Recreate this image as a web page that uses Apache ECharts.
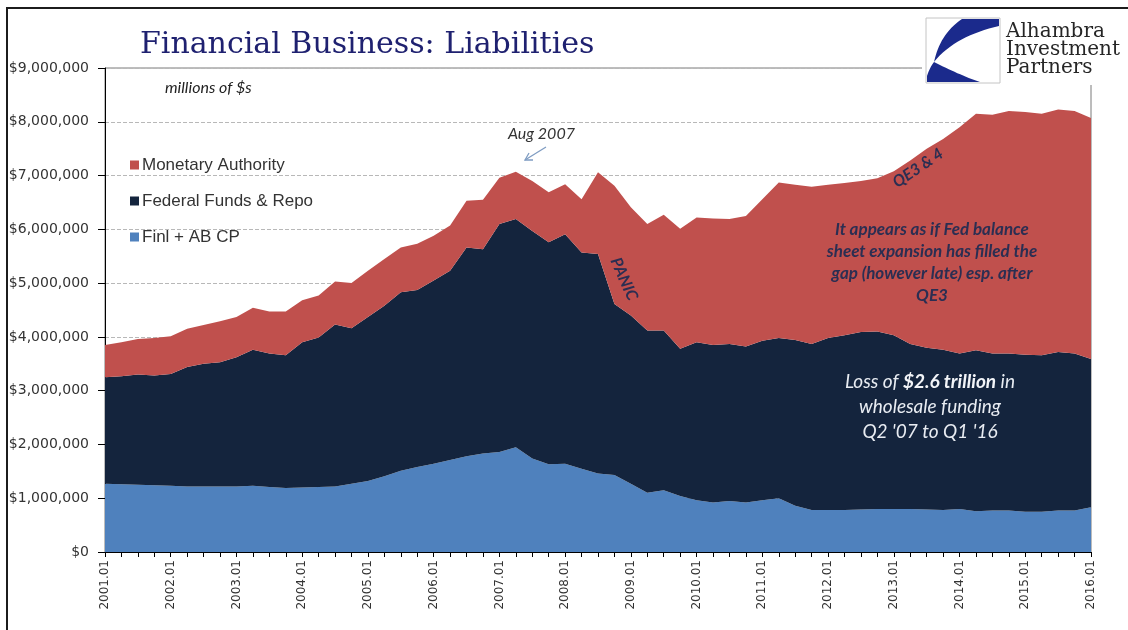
<!DOCTYPE html>
<html>
<head>
<meta charset="utf-8">
<script src="https://cdn.jsdelivr.net/npm/echarts@6/dist/echarts.min.js"></script>
<style>
  html, body { margin: 0; padding: 0; background: #ffffff; }
  #chart { width: 1128px; height: 630px; }
</style>
</head>
<body>
<div id="chart"></div>
<script>
// Quarterly periods, 2001 Q1 through 2016 Q1
const years = [2001, 2002, 2003, 2004, 2005, 2006, 2007, 2008,
               2009, 2010, 2011, 2012, 2013, 2014, 2015, 2016];
const quarterSuffix = ['01', '02', '03', '04'];
const quarters = [];
years.forEach(function (y) {
  quarterSuffix.forEach(function (q) {
    if (y < 2016 || q === '01') quarters.push(y + '.' + q);
  });
});

// Liabilities, millions of dollars (stacked bottom to top)
const finlCP = [
  1270000, 1260000, 1250000, 1240000, 1230000, 1220000, 1220000, 1220000,
  1220000, 1230000, 1210000, 1190000, 1200000, 1210000, 1220000, 1270000,
  1320000, 1410000, 1510000, 1580000, 1640000, 1710000, 1780000, 1830000,
  1860000, 1950000, 1740000, 1630000, 1640000, 1550000, 1460000, 1430000,
  1270000, 1100000, 1150000, 1040000, 960000, 920000, 950000, 920000,
  960000, 1000000, 860000, 780000, 780000, 780000, 790000, 800000,
  800000, 800000, 790000, 780000, 800000, 760000, 770000, 770000,
  750000, 750000, 770000, 770000, 830000
];
const fedFundsRepo = [
  1980000, 2010000, 2050000, 2040000, 2080000, 2220000, 2280000, 2310000,
  2400000, 2530000, 2480000, 2470000, 2700000, 2780000, 3010000, 2890000,
  3050000, 3170000, 3320000, 3290000, 3410000, 3520000, 3880000, 3800000,
  4240000, 4240000, 4230000, 4130000, 4270000, 4020000, 4080000, 3180000,
  3130000, 3020000, 2970000, 2740000, 2940000, 2930000, 2920000, 2900000,
  2970000, 2980000, 3080000, 3090000, 3200000, 3250000, 3300000, 3300000,
  3230000, 3070000, 3010000, 2980000, 2890000, 2990000, 2920000, 2920000,
  2920000, 2910000, 2950000, 2920000, 2760000
];
const monetaryAuthority = [
  600000, 630000, 660000, 700000, 700000, 710000, 720000, 760000,
  750000, 780000, 780000, 810000, 780000, 780000, 800000, 840000,
  860000, 870000, 830000, 860000, 830000, 840000, 870000, 920000,
  860000, 880000, 930000, 930000, 930000, 990000, 1520000, 2200000,
  2010000, 1980000, 2150000, 2230000, 2320000, 2350000, 2320000, 2430000,
  2630000, 2890000, 2890000, 2920000, 2850000, 2830000, 2810000, 2850000,
  3050000, 3410000, 3700000, 3920000, 4210000, 4400000, 4440000, 4510000,
  4510000, 4490000, 4510000, 4510000, 4480000
];

const colors = {
  finl: '#4f81bd',
  fed: '#14243d',
  mon: '#c0504d'
};

function dollars(v) {
  return '$' + String(Math.round(v)).replace(/\B(?=(\d{3})+(?!\d))/g, ',');
}

// Sample a cubic Bezier segment into polyline points (for the logo swoosh)
function cubic(p0, p1, p2, p3, n) {
  const pts = [];
  for (let k = 0; k <= n; k++) {
    const t = k / n, u = 1 - t;
    pts.push([
      u * u * u * p0[0] + 3 * u * u * t * p1[0] + 3 * u * t * t * p2[0] + t * t * t * p3[0],
      u * u * u * p0[1] + 3 * u * u * t * p1[1] + 3 * u * t * t * p2[1] + t * t * t * p3[1]
    ]);
  }
  return pts;
}

const swooshUpper = [[962, 19], [999, 19], [999, 26]]
  .concat(cubic([999, 26], [972, 32], [948, 44], [934, 62], 16))
  .concat(cubic([934, 62], [938, 44], [946, 30], [962, 19], 16));
const swooshLower = cubic([934, 62], [950, 70], [965, 77], [980, 82], 16)
  .concat([[927, 82], [927, 76]])
  .concat(cubic([927, 76], [929, 70], [931, 66], [934, 62], 8));

const chart = echarts.init(document.getElementById('chart'), null, { renderer: 'canvas' });

const noteFill = '#2b2e52';

chart.setOption({
  animation: false,
  backgroundColor: '#ffffff',
  grid: {
    left: 105, right: 37, top: 68, bottom: 78,
    show: true, borderColor: '#7a7a7a', borderWidth: 1,
    backgroundColor: 'transparent'
  },
  legend: {
    data: ['Monetary Authority', 'Federal Funds & Repo', 'Finl + AB CP'],
    orient: 'vertical',
    left: 130, top: 155, padding: 0,
    itemWidth: 9, itemHeight: 9, itemGap: 16,
    icon: 'rect',
    selectedMode: false,
    textStyle: { fontFamily: 'Liberation Sans', fontSize: 17, color: '#333333', lineHeight: 20, padding: [0, 0, 0, -2] }
  },
  xAxis: {
    type: 'category',
    data: quarters,
    boundaryGap: false,
    axisLine: { lineStyle: { color: '#000000', width: 1 } },
    axisTick: { show: true, interval: 0, length: 5, lineStyle: { color: '#000000' } },
    axisLabel: {
      interval: function (index) { return index % 4 === 0; },
      rotate: 90,
      margin: 8,
      fontFamily: 'DejaVu Sans', fontSize: 12, color: '#333333'
    },
    splitLine: { show: false }
  },
  yAxis: {
    type: 'value',
    min: 0, max: 9000000, interval: 1000000,
    axisLine: { show: true, lineStyle: { color: '#000000', width: 1 } },
    axisTick: { show: true, length: 7, lineStyle: { color: '#000000' } },
    axisLabel: {
      formatter: dollars, margin: 16,
      fontFamily: 'DejaVu Sans', fontSize: 14, color: '#333333'
    },
    splitLine: { lineStyle: { type: 'dashed', color: '#b8b8b8', width: 1 } }
  },
  series: [
    {
      name: 'Finl + AB CP', type: 'line', stack: 'total', data: finlCP,
      symbol: 'none', lineStyle: { width: 0 },
      itemStyle: { color: colors.finl },
      areaStyle: { color: colors.finl, opacity: 1 },
      emphasis: { disabled: true }
    },
    {
      name: 'Federal Funds & Repo', type: 'line', stack: 'total', data: fedFundsRepo,
      symbol: 'none', lineStyle: { width: 0 },
      itemStyle: { color: colors.fed },
      areaStyle: { color: colors.fed, opacity: 1 },
      emphasis: { disabled: true }
    },
    {
      name: 'Monetary Authority', type: 'line', stack: 'total', data: monetaryAuthority,
      symbol: 'none', lineStyle: { width: 0 },
      itemStyle: { color: colors.mon },
      areaStyle: { color: colors.mon, opacity: 1 },
      emphasis: { disabled: true }
    }
  ],
  graphic: [
    // page frame
    {
      type: 'rect', z: 100, silent: true,
      shape: { x: 7, y: 8, width: 1200, height: 700 },
      style: { fill: 'none', stroke: '#1c1c1c', lineWidth: 2 }
    },
    // title
    {
      type: 'text', z: 100, x: 140, y: 45,
      style: {
        text: 'Financial Business: Liabilities',
        fontFamily: 'DejaVu Serif', fontSize: 30, fill: '#1f2170',
        align: 'left', verticalAlign: 'middle'
      }
    },
    {
      type: 'text', z: 100, x: 165, y: 88,
      style: {
        text: 'millions of $s',
        fontFamily: 'Lato', fontStyle: 'italic', fontSize: 16, fill: '#222222',
        align: 'left', verticalAlign: 'middle'
      }
    },
    // logo backdrop and mark
    {
      type: 'rect', z: 90, silent: true,
      shape: { x: 922, y: 11, width: 210, height: 74 },
      style: { fill: '#ffffff' }
    },
    {
      type: 'rect', z: 91, silent: true,
      shape: { x: 926, y: 18, width: 74, height: 65 },
      style: { fill: '#ffffff', stroke: '#c4c4c4', lineWidth: 1 }
    },
    {
      type: 'polygon', z: 92, silent: true,
      shape: { points: swooshUpper },
      style: { fill: '#1b2a8c' }
    },
    {
      type: 'polygon', z: 92, silent: true,
      shape: { points: swooshLower },
      style: { fill: '#1b2a8c' }
    },
    {
      type: 'text', z: 92, x: 1006, y: 32,
      style: { text: 'Alhambra', fontFamily: 'DejaVu Serif', fontSize: 20, fill: '#262626', align: 'left', verticalAlign: 'middle' }
    },
    {
      type: 'text', z: 92, x: 1006, y: 50,
      style: { text: 'Investment', fontFamily: 'DejaVu Serif', fontSize: 20, fill: '#262626', align: 'left', verticalAlign: 'middle' }
    },
    {
      type: 'text', z: 92, x: 1006, y: 68,
      style: { text: 'Partners', fontFamily: 'DejaVu Serif', fontSize: 20, fill: '#262626', align: 'left', verticalAlign: 'middle' }
    },
    // Aug 2007 callout
    {
      type: 'text', z: 100, x: 508, y: 134,
      style: { text: 'Aug 2007', fontFamily: 'Lato', fontStyle: 'italic', fontSize: 16, fill: '#333333', align: 'left', verticalAlign: 'middle' }
    },
    {
      type: 'line', z: 100, silent: true,
      shape: { x1: 546, y1: 147, x2: 525, y2: 160 },
      style: { stroke: '#7f9cc2', lineWidth: 1.3 }
    },
    {
      type: 'polyline', z: 100, silent: true,
      shape: { points: [[533, 160], [525, 160], [529, 153]] },
      style: { stroke: '#7f9cc2', lineWidth: 1.3, fill: 'none' }
    },
    // rotated notes
    {
      type: 'text', z: 100, x: 624, y: 279, rotation: -66 * Math.PI / 180,
      style: { text: 'PANIC', fontFamily: 'Lato', fontStyle: 'italic', fontWeight: 'bold', fontSize: 16, fill: noteFill, align: 'center', verticalAlign: 'middle' }
    },
    {
      type: 'text', z: 100, x: 918, y: 168, rotation: 34 * Math.PI / 180,
      style: { text: 'QE3 & 4', fontFamily: 'Lato', fontStyle: 'italic', fontWeight: 'bold', fontSize: 16, fill: noteFill, align: 'center', verticalAlign: 'middle' }
    },
    {
      type: 'text', z: 100, x: 932, y: 263,
      style: {
        text: 'It appears as if Fed balance\nsheet expansion has filled the\ngap (however late) esp. after\nQE3',
        fontFamily: 'Lato', fontStyle: 'italic', fontWeight: 'bold', fontSize: 17, lineHeight: 22,
        fill: noteFill, align: 'center', verticalAlign: 'middle'
      }
    },
    {
      type: 'text', z: 100, x: 930, y: 407,
      style: {
        text: 'Loss of {b|$2.6 trillion} in\nwholesale funding\nQ2 \'07 to Q1 \'16',
        fontFamily: 'Lato', fontStyle: 'italic', fontSize: 19, lineHeight: 25,
        fill: '#e8ecf2', align: 'center', verticalAlign: 'middle',
        rich: {
          b: { fontFamily: 'Lato', fontStyle: 'italic', fontWeight: 'bold', fontSize: 19, lineHeight: 25, fill: '#f2f4f8' }
        }
      }
    }
  ]
});
</script>
</body>
</html>
